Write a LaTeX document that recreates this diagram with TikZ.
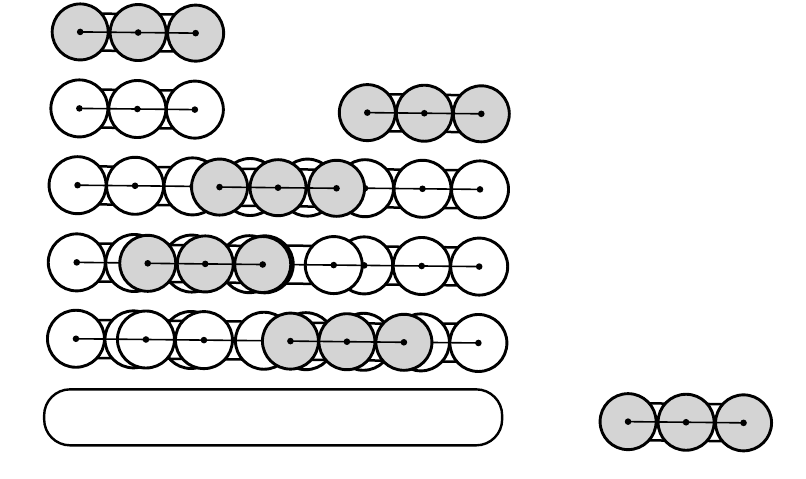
\documentclass[tikz,border=0pt]{standalone}
\begin{document}
\begin{tikzpicture}[x=1pt,y=-1pt,
  wc/.style={circle,draw,line width=2.9pt,fill=white,minimum size=57pt,inner sep=0pt},
  sc/.style={circle,draw,line width=2.9pt,fill=black!17,minimum size=56pt,inner sep=0pt},
  axisline/.style={line width=1.6pt},
  bridge/.style={line width=2.5pt},
  barbox/.style={draw,line width=2.4pt,rounded corners=26pt,minimum width=458pt,minimum height=56pt,inner sep=0pt}]
\useasboundingbox (0,0) rectangle (806,479);
\begin{scope}[rotate around={-0.6:(403,240)}]
% ---------- Row 1: shaded chain
\foreach \i/\x in {1/78,2/136,3/193.5}{\coordinate (a\i) at (\x,35.3);}
\draw[bridge] ([yshift=18.5pt]a1) -- ([yshift=18.5pt]a3) ([yshift=-18.5pt]a1) -- ([yshift=-18.5pt]a3);
\foreach \i in {1,2,3}{\node[sc] (A\i) at (a\i) {};}
\draw[axisline] (A1.center) -- (A3.center);
\foreach \i in {1,2,3}{\fill (A\i.center) circle (3.3pt);}
% ---------- Row 2 left: white chain
\foreach \i/\x in {1/78,2/136,3/193.5}{\coordinate (b\i) at (\x,111.8);}
\draw[bridge] ([yshift=19pt]b1) -- ([yshift=19pt]b3) ([yshift=-19pt]b1) -- ([yshift=-19pt]b3);
\foreach \i in {1,2,3}{\node[wc] (B\i) at (b\i) {};}
\draw[axisline] (B1.center) -- (B3.center);
\foreach \i in {1,2,3}{\fill (B\i.center) circle (3.3pt);}
% ---------- Row 2 right: shaded chain
\foreach \i/\x in {1/366,2/423,3/480}{\coordinate (c\i) at (\x,113);}
\draw[bridge] ([yshift=18.5pt]c1) -- ([yshift=18.5pt]c3) ([yshift=-18.5pt]c1) -- ([yshift=-18.5pt]c3);
\foreach \i in {1,2,3}{\node[sc] (C\i) at (c\i) {};}
\draw[axisline] (C1.center) -- (C3.center);
\foreach \i in {1,2,3}{\fill (C\i.center) circle (3.3pt);}
% ---------- Row 3: track + shaded chain on top
\foreach \i/\x in {1/77,2/134.5,3/192,4/249.5,5/307,6/364.5,7/422,8/479.5}{\coordinate (t\i) at (\x,188.6);}
\draw[bridge] ([yshift=19pt]t1) -- ([yshift=19pt]t8) ([yshift=-19pt]t1) -- ([yshift=-19pt]t8);
\foreach \i in {1,...,8}{\node[wc] (T\i) at (t\i) {};}
\draw[axisline] (T1.center) -- (T8.center);
\foreach \i in {1,...,8}{\fill (T\i.center) circle (3.3pt);}
\foreach \i/\x in {1/219,2/277.5,3/336}{\coordinate (s\i) at (\x,189);}
\draw[bridge] ([yshift=18.5pt]s1) -- ([yshift=18.5pt]s3) ([yshift=-18.5pt]s1) -- ([yshift=-18.5pt]s3);
\foreach \i in {1,2,3}{\node[sc] (S\i) at (s\i) {};}
\draw[axisline] (S1.center) -- (S3.center);
\foreach \i in {1,2,3}{\fill (S\i.center) circle (3.3pt);}
% ---------- Row 4
\foreach \i/\x in {1/77,2/134.5,3/192,4/249.5,5/265,6/364.5,7/422,8/479.5}{\coordinate (u\i) at (\x,265.8);}
\draw[bridge] ([yshift=19pt]u1) -- ([yshift=19pt]u8) ([yshift=-19pt]u1) -- ([yshift=-19pt]u8);
\foreach \i in {1,...,8}{\node[wc] (U\i) at (u\i) {};}
\foreach \i in {1,...,8}{\fill (U\i.center) circle (3.3pt);}
\node[wc] (F) at (334,265.8) {};
\draw[axisline] (U1.center) -- (U8.center);
\fill (F.center) circle (3.3pt);
\foreach \i/\x in {1/148,2/205.5,3/263}{\coordinate (q\i) at (\x,266);}
\draw[bridge] ([yshift=18.5pt]q1) -- ([yshift=18.5pt]q3) ([yshift=-18.5pt]q1) -- ([yshift=-18.5pt]q3);
\foreach \i in {1,2,3}{\node[sc] (Q\i) at (q\i) {};}
\draw[axisline] (Q1.center) -- (Q3.center);
\foreach \i in {1,2,3}{\fill (Q\i.center) circle (3.3pt);}
% ---------- Row 5
\foreach \i/\x in {1/77,2/134.5,3/192,4/265,5/307,6/364.5,7/422,8/479.5}{\coordinate (v\i) at (\x,342.2);}
\draw[bridge] ([yshift=19pt]v1) -- ([yshift=19pt]v8) ([yshift=-19pt]v1) -- ([yshift=-19pt]v8);
\foreach \i in {1,...,8}{\node[wc] (V\i) at (v\i) {};}
\foreach \i in {1,...,8}{\fill (V\i.center) circle (3.3pt);}
\coordinate (g1) at (147,342.2);
\coordinate (g2) at (205,342.2);
\draw[bridge] ([yshift=19pt]g1) -- ([yshift=19pt]g2) ([yshift=-19pt]g1) -- ([yshift=-19pt]g2);
\node[wc] (G1) at (g1) {};
\node[wc] (G2) at (g2) {};
\draw[axisline] (V1.center) -- (V8.center);
\fill (G1.center) circle (3.3pt) (G2.center) circle (3.3pt);
\foreach \i/\x in {1/291.5,2/348,3/405}{\coordinate (w\i) at (\x,342.3);}
\draw[bridge] ([yshift=18.5pt]w1) -- ([yshift=18.5pt]w3) ([yshift=-18.5pt]w1) -- ([yshift=-18.5pt]w3);
\foreach \i in {1,2,3}{\node[sc] (W\i) at (w\i) {};}
\draw[axisline] (W1.center) -- (W3.center);
\foreach \i in {1,2,3}{\fill (W\i.center) circle (3.3pt);}
% ---------- Row 6: bar
\node[barbox] (bar) at (275,418.7) {};
% ---------- Bottom right shaded chain
\foreach \i/\x in {1/630,2/688,3/745.5}{\coordinate (z\i) at (\x,419.3);}
\draw[bridge] ([yshift=18.5pt]z1) -- ([yshift=18.5pt]z3) ([yshift=-18.5pt]z1) -- ([yshift=-18.5pt]z3);
\foreach \i in {1,2,3}{\node[sc] (Z\i) at (z\i) {};}
\draw[axisline] (Z1.center) -- (Z3.center);
\foreach \i in {1,2,3}{\fill (Z\i.center) circle (3.3pt);}
\end{scope}
\end{tikzpicture}
\end{document}
